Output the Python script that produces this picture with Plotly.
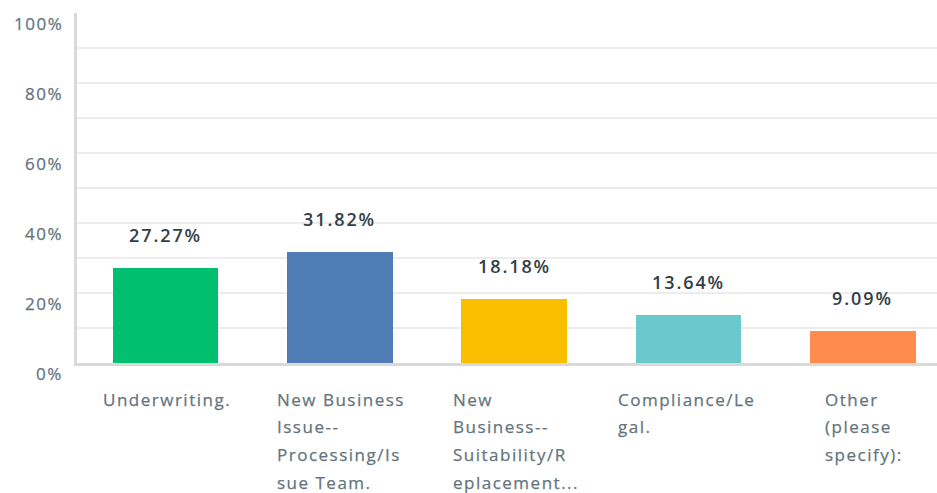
import plotly.graph_objects as go

categories = [
    "Underwriting.",
    "New Business<br>Issue--<br>Processing/Is<br>sue Team.",
    "New<br>Business--<br>Suitability/R<br>eplacement...",
    "Compliance/Le<br>gal.",
    "Other<br>(please<br>specify):",
]
values = [27.27, 31.82, 18.18, 13.64, 9.09]
value_labels = ["27.27%", "31.82%", "18.18%", "13.64%", "9.09%"]
colors = ["#00BF6F", "#507CB6", "#F9BE00", "#6BC8CD", "#FF8B4F"]
y_ticks = [0, 20, 40, 60, 80, 100]
y_tick_labels = ["0%", "20%", "40%", "60%", "80%", "100%"]

# layout-only: left offset of each wrapped label block relative to bar centre (px)
label_xshift = [-65, -65, -63, -72, -40]

FONT = "Open Sans"
LABEL_COLOR = "#65747E"
VALUE_COLOR = "#333E48"


def spaced(t, ls, stroke=None):
    st = "letter-spacing:%spx" % ls
    if stroke:
        st += ";stroke:%s;stroke-width:0.25px" % stroke
    return '<span style="%s">%s</span>' % (st, t)


x = list(range(len(categories)))
fig = go.Figure()
fig.add_trace(go.Bar(
    x=x, y=values, marker=dict(color=colors, line=dict(width=0)),
    width=0.607, hoverinfo="skip",
))

ann = []
for i, (v, t) in enumerate(zip(values, value_labels)):
    ann.append(dict(x=i, y=v, xref="x", yref="y", text=spaced(t, 1.9), showarrow=False,
                    xanchor="center", yanchor="middle", yshift=33,
                    font=dict(family=FONT, size=18, color=VALUE_COLOR, weight=600)))
for i, c in enumerate(categories):
    for k, line in enumerate(c.split("<br>")):
        ann.append(dict(x=i, y=0, xref="x", yref="paper",
                        text=spaced(line, 1.5, LABEL_COLOR),
                        showarrow=False,
                        xanchor="left", yanchor="middle", xshift=label_xshift[i],
                        yshift=-(36 + 27.7 * k),
                        font=dict(family=FONT, size=17, color=LABEL_COLOR)))
for v, t in zip(y_ticks, y_tick_labels):
    ann.append(dict(x=0, y=v, xref="paper", yref="y", text=spaced(t, 1.5, LABEL_COLOR),
                    showarrow=False,
                    xanchor="right", yanchor="middle", xshift=-12, yshift=-10,
                    font=dict(family=FONT, size=17, color=LABEL_COLOR)))

fig.update_layout(
    width=937, height=493,
    margin=dict(l=77, r=0, t=13, b=130),
    paper_bgcolor="white", plot_bgcolor="white",
    showlegend=False,
    bargap=0,
    annotations=ann,
    xaxis=dict(range=[-0.508, 4.426], showticklabels=False, showgrid=False,
               zeroline=False, showline=True, linecolor="#D9D9D9", linewidth=3,
               ticks="", fixedrange=True),
    yaxis=dict(range=[0, 100], tickvals=list(range(0, 101, 10)), showticklabels=False,
               showgrid=True, gridcolor="#ECECEC", gridwidth=1.5, zeroline=False,
               showline=True, linecolor="#D9D9D9", linewidth=3, ticks="",
               fixedrange=True),
)
fig.write_html("out.html", config={"displayModeBar": False})
